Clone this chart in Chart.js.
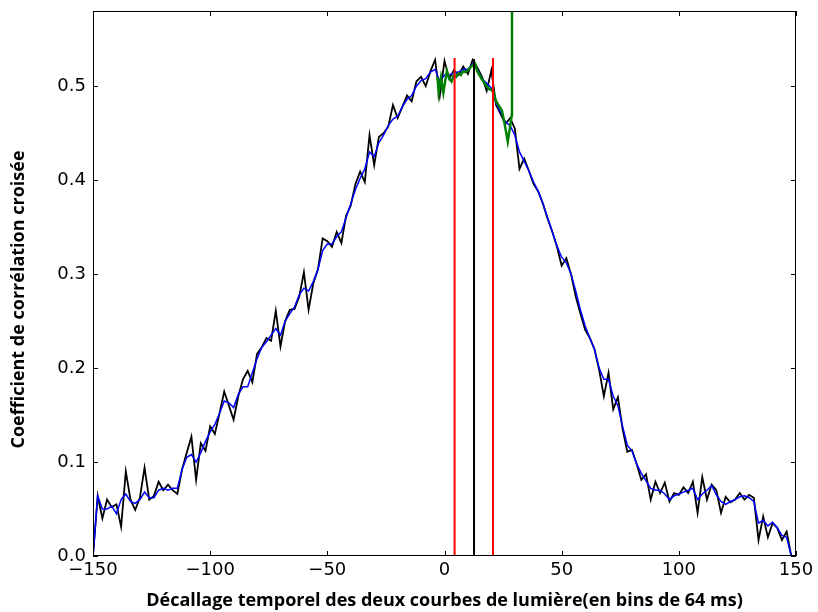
<!DOCTYPE html>
<html lang="fr">
<head>
<meta charset="UTF-8">
<title>Corrélation croisée</title>
<style>
  html, body { margin: 0; padding: 0; background: #fff; }
  #wrap { width: 818px; height: 612px; }
</style>
</head>
<body>
<div id="wrap"><canvas id="chart"></canvas></div>

<script src="https://cdn.jsdelivr.net/npm/chart.js@4/dist/chart.umd.min.js"></script>
<script>
// décalages (en bins de 64 ms), pas de 2
const lags = []
for (let l = -150; l <= 150; l += 2) lags.push(l)

// corrélation croisée brute (courbe noire)
const rawCorr = [
  0.000, 0.064, 0.040, 0.060, 0.052, 0.055, 0.031, 0.090, 0.060, 0.049,
  0.062, 0.094, 0.060, 0.064, 0.079, 0.070, 0.076, 0.070, 0.066, 0.092,
  0.110, 0.127, 0.081, 0.120, 0.112, 0.138, 0.130, 0.152, 0.175, 0.160,
  0.145, 0.170, 0.188, 0.197, 0.185, 0.215, 0.222, 0.232, 0.229, 0.261,
  0.223, 0.250, 0.262, 0.263, 0.276, 0.302, 0.262, 0.290, 0.305, 0.338,
  0.335, 0.329, 0.345, 0.333, 0.362, 0.373, 0.396, 0.409, 0.398, 0.448,
  0.416, 0.446, 0.450, 0.457, 0.480, 0.466, 0.478, 0.490, 0.484, 0.505,
  0.510, 0.500, 0.516, 0.528, 0.490, 0.527, 0.508, 0.517, 0.512, 0.521,
  0.513, 0.528, 0.520, 0.510, 0.495, 0.517, 0.480, 0.470, 0.460, 0.466,
  0.455, 0.412, 0.423, 0.410, 0.396, 0.388, 0.375, 0.359, 0.345, 0.329,
  0.309, 0.317, 0.300, 0.276, 0.258, 0.241, 0.232, 0.220, 0.198, 0.170,
  0.195, 0.156, 0.169, 0.135, 0.111, 0.113, 0.098, 0.081, 0.087, 0.060,
  0.079, 0.067, 0.078, 0.058, 0.067, 0.065, 0.073, 0.067, 0.079, 0.046,
  0.084, 0.060, 0.076, 0.070, 0.046, 0.063, 0.057, 0.060, 0.067, 0.060,
  0.065, 0.062, 0.017, 0.042, 0.020, 0.035, 0.030, 0.017, 0.026, 0.000,
  null
]

// corrélation lissée (courbe bleue)
const smoothCorr = [
  0.000, 0.064, 0.050, 0.050, 0.053, 0.045, 0.060, 0.066, 0.058, 0.056,
  0.060, 0.068, 0.062, 0.062, 0.070, 0.072, 0.070, 0.072, 0.072, 0.092,
  0.105, 0.108, 0.100, 0.110, 0.122, 0.132, 0.140, 0.152, 0.165, 0.163,
  0.158, 0.172, 0.180, 0.180, 0.195, 0.210, 0.222, 0.228, 0.235, 0.242,
  0.235, 0.250, 0.258, 0.265, 0.278, 0.285, 0.282, 0.292, 0.305, 0.325,
  0.332, 0.332, 0.340, 0.345, 0.360, 0.375, 0.390, 0.402, 0.412, 0.430,
  0.425, 0.440, 0.448, 0.458, 0.465, 0.468, 0.478, 0.486, 0.490, 0.500,
  0.506, 0.508, 0.515, 0.518, 0.505, 0.512, 0.512, 0.514, 0.515, 0.518,
  0.518, 0.524, 0.518, 0.508, 0.503, 0.498, 0.482, 0.472, 0.462, 0.458,
  0.448, 0.430, 0.420, 0.410, 0.398, 0.388, 0.375, 0.360, 0.345, 0.330,
  0.318, 0.312, 0.300, 0.282, 0.262, 0.245, 0.232, 0.220, 0.200, 0.188,
  0.188, 0.170, 0.160, 0.138, 0.118, 0.112, 0.098, 0.088, 0.080, 0.072,
  0.070, 0.070, 0.066, 0.060, 0.064, 0.066, 0.068, 0.070, 0.072, 0.060,
  0.066, 0.070, 0.075, 0.065, 0.058, 0.055, 0.058, 0.060, 0.063, 0.064,
  0.062, 0.058, 0.035, 0.038, 0.032, 0.036, 0.030, 0.022, 0.020, 0.000,
  null
]

// ajustement autour du pic (courbe verte)
const fitLags = [-3, -2.5, -1.5, -0.5, 1, 2, 3, 4, 5, 6, 7, 8, 9, 10, 11, 12, 13,
  14, 16, 18, 19, 20.7, 22, 24.5, 25.5, 27, 28.7, 28.8]
const fitCorr = [0.510, 0.493, 0.509, 0.493, 0.516, 0.508, 0.505, 0.512, 0.510,
  0.514, 0.512, 0.516, 0.515, 0.517, 0.520, 0.522, 0.524, 0.516, 0.507, 0.500,
  0.497, 0.495, 0.484, 0.474, 0.462, 0.441, 0.469, 0.620]

// maximum (noir) et bornes de l'intervalle (rouge)
const peakLag = 12.6
const peakTop = 0.529
const boundLags = [4.3, 20.7]
const boundTop = 0.53

const xTicks = [-150, -100, -50, 0, 50, 100, 150]
const yTicks = [0.0, 0.1, 0.2, 0.3, 0.4, 0.5]
const yTitle = 'Coefficient de corrélation croisée'

const pts = (xs, ys) => xs.map((x, i) => ({ x: x, y: ys[i] }))
const vline = (x, top) => [{ x: x, y: 0 }, { x: x, y: top }]

const tickFont = { family: 'DejaVu Sans', size: 18 }
const titleFont = { family: 'Open Sans', size: 18, weight: 'bold' }

// cadre + graduations vers l'intérieur sur les 4 côtés, titre de l'axe y
const frame = {
  id: 'frame',
  afterDatasetsDraw(chart) {
    const { ctx, chartArea: a, scales: { x, y } } = chart
    ctx.save()
    ctx.strokeStyle = '#000'
    ctx.lineWidth = 1
    ctx.strokeRect(a.left + 0.5, a.top + 0.5, a.right - a.left - 1, a.bottom - a.top - 1)
    ctx.beginPath()
    for (const v of xTicks) {
      const px = Math.round(x.getPixelForValue(v)) + 0.5
      ctx.moveTo(px, a.top); ctx.lineTo(px, a.top + 5)
      ctx.moveTo(px, a.bottom); ctx.lineTo(px, a.bottom - 5)
    }
    for (const v of yTicks) {
      const py = Math.round(y.getPixelForValue(v)) + 0.5
      ctx.moveTo(a.left, py); ctx.lineTo(a.left + 5, py)
      ctx.moveTo(a.right, py); ctx.lineTo(a.right - 5, py)
    }
    ctx.stroke()

    // titre y un peu plus bas que le centre, comme sur la figure
    ctx.translate(19, (a.top + a.bottom) / 2 + 16)
    ctx.rotate(-Math.PI / 2)
    ctx.fillStyle = '#000'
    ctx.font = 'bold 18px "Open Sans"'
    ctx.textAlign = 'center'
    ctx.textBaseline = 'middle'
    ctx.fillText(yTitle, 0, 0)
    ctx.restore()
  }
}

new Chart(document.getElementById('chart'), {
  type: 'line',
  data: {
    datasets: [
      { data: pts(lags, rawCorr), borderColor: '#000000', borderWidth: 1.8, order: 5 },
      { data: pts(lags, smoothCorr), borderColor: '#0000ff', borderWidth: 1.5, order: 4 },
      { data: pts(fitLags, fitCorr), borderColor: '#008000', borderWidth: 2.5, order: 3 },
      { data: vline(boundLags[0], boundTop), borderColor: '#ff0000', borderWidth: 2, order: 2 },
      { data: vline(boundLags[1], boundTop), borderColor: '#ff0000', borderWidth: 2, order: 2 },
      { data: vline(peakLag, peakTop), borderColor: '#000000', borderWidth: 2, order: 1 }
    ]
  },
  options: {
    responsive: true,
    maintainAspectRatio: false,
    animation: false,
    spanGaps: false,
    elements: { point: { radius: 0 }, line: { tension: 0 } },
    layout: { padding: { left: 0, right: 22, top: 11, bottom: 0 } },
    plugins: { legend: { display: false }, tooltip: { enabled: false } },
    scales: {
      x: {
        type: 'linear',
        min: -150,
        max: 150,
        grid: { display: false, drawTicks: false },
        border: { display: false },
        afterBuildTicks: s => { s.ticks = xTicks.map(v => ({ value: v })) },
        afterFit: s => { s.height = 56; s.paddingLeft = 0; s.paddingRight = 0 },
        ticks: {
          color: '#000',
          font: tickFont,
          padding: 4,
          maxRotation: 0,
          callback: v => String(v).replace('-', '\u2212')
        },
        title: {
          display: true,
          text: 'Décallage temporel des deux courbes de lumière(en bins de 64 ms)',
          color: '#000',
          font: titleFont,
          padding: { top: -3, bottom: 0 }
        }
      },
      y: {
        min: 0,
        max: 0.58,
        grid: { display: false, drawTicks: false },
        border: { display: false },
        afterBuildTicks: s => { s.ticks = yTicks.map(v => ({ value: v })) },
        afterFit: s => { s.width = 93; s.paddingTop = 0; s.paddingBottom = 0 },
        ticks: {
          color: '#000',
          font: tickFont,
          padding: 7,
          callback: v => v.toFixed(1)
        }
      }
    }
  },
  plugins: [frame]
})
</script>
</body>
</html>
